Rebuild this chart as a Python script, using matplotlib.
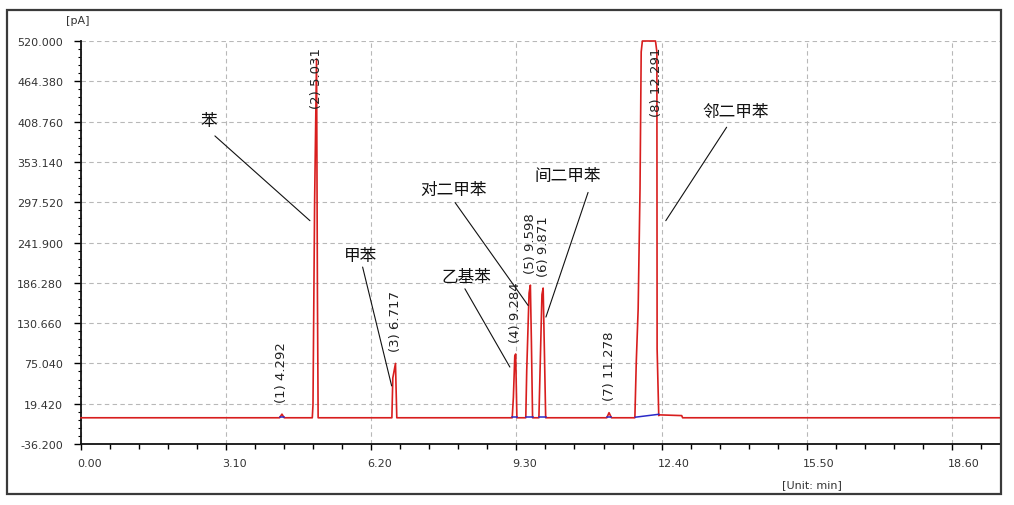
import numpy as np
import matplotlib
matplotlib.use('Agg')
from matplotlib import pyplot as plt
from matplotlib.patches import Rectangle
from matplotlib.ticker import AutoMinorLocator, FormatStrFormatter
from matplotlib.transforms import ScaledTranslation

# chromatogram trace, vertices (min, pA)
trace_t = [0.0, 4.24, 4.292, 4.34,
           4.94, 4.955, 4.99, 5.031, 5.05, 5.065,
           6.64, 6.66, 6.717, 6.745,
           9.21, 9.235, 9.265, 9.284, 9.31,
           9.50, 9.52, 9.57, 9.598, 9.62, 9.645,
           9.78, 9.80, 9.845, 9.871, 9.895, 9.925,
           11.23, 11.278, 11.33,
           11.83, 11.86, 11.90, 11.94, 11.965, 11.99, 12.27, 12.30, 12.305, 12.34,
           12.36, 12.83, 12.85, 19.65]
trace_v = [0, 0, 5, 0,
           0, 18, 300, 495, 170, 0,
           0, 55, 75, 0,
           0, 28, 85, 88, 0,
           0, 65, 172, 183, 105, 0,
           0, 52, 170, 179, 100, 0,
           0, 7, 0,
           0, 77, 150, 316, 505, 520, 520, 505, 95, 3,
           4, 3, 0, 0]

# integration baselines (blue)
base_t0 = [4.24, 9.21, 9.50, 9.78, 11.23, 11.84]
base_t1 = [4.34, 9.31, 9.645, 9.925, 11.33, 12.34]
base_v0 = [0, 0, 0, 0, 0, 0]
base_v1 = [0, 0, 0, 0, 0, 4]

# peak table
peak_no = [1, 2, 3, 4, 5, 6, 7, 8]
peak_rt = [4.292, 5.031, 6.717, 9.284, 9.598, 9.871, 11.278, 12.291]
peak_h = [5, 495, 75, 88, 183, 179, 7, 520]

compounds = ['苯', '甲苯', '乙基苯', '对二甲苯', '间二甲苯', '邻二甲苯']

x_ticks = [0.00, 3.10, 6.20, 9.30, 12.40, 15.50, 18.60]
y_ticks = [-36.2, 19.42, 75.04, 130.66, 186.28, 241.90, 297.52, 353.14, 408.76, 464.38, 520.0]

W, H = 1014, 506
fig = plt.figure(figsize=(W / 100, H / 100), dpi=100)
fig.patches.append(Rectangle((7 / W, 1 - 495 / H), 994 / W, 484 / H, transform=fig.transFigure,
                             fill=False, ec='#3a3a3a', lw=1.6))
ax = fig.add_axes([81 / W, 1 - 445 / H, 920 / W, 403 / H])

red = '#d81e1e'
blue = '#2a2ac8'
ax.plot(trace_t, trace_v, color=red, lw=1.2, clip_on=False, zorder=3)
for t0, t1, v0, v1 in zip(base_t0, base_t1, base_v0, base_v1):
    ax.plot([t0, t1], [v0 + 0.8, v1 + 0.8], color=blue, lw=1.1, zorder=4)

ax.set_xlim(0, 19.65)
ax.set_ylim(-36.2, 520)
for s in ['top', 'right']:
    ax.spines[s].set_visible(False)
for s in ['left', 'bottom']:
    ax.spines[s].set_linewidth(1.3)
    ax.spines[s].set_color('#111111')

ax.set_xticks(x_ticks)
ax.set_yticks(y_ticks)
ax.xaxis.set_major_formatter(FormatStrFormatter('%.2f'))
ax.yaxis.set_major_formatter(FormatStrFormatter('%.3f'))
ax.xaxis.set_minor_locator(AutoMinorLocator(5))
ax.yaxis.set_minor_locator(AutoMinorLocator(5))
ax.tick_params(axis='x', which='major', length=4, width=1, pad=6, labelsize=8, labelcolor='#333333')
ax.tick_params(axis='x', which='minor', length=3.5, width=1)
ax.tick_params(axis='y', which='major', length=5, width=1, pad=8, labelsize=8, labelcolor='#333333')
ax.tick_params(axis='y', which='minor', length=2.5, width=0.8)
for lab in ax.get_xticklabels():
    lab.set_horizontalalignment('left')
    lab.set_transform(lab.get_transform() + ScaledTranslation(-0.04, 0, fig.dpi_scale_trans))

ax.grid(True, which='major', ls=(0, (4, 3)), color='#b8b8b8', lw=0.8)
ax.set_axisbelow(True)

fig.text(78 / W, 1 - 21 / H, '[pA]', ha='center', va='center', fontsize=8, color='#333333')
fig.text(812 / W, 1 - 485 / H, '[Unit: min]', ha='center', va='center', fontsize=8, color='#333333')

# peak labels
for n, rt, h in zip(peak_no, peak_rt, peak_h):
    if h > 400:
        ax.annotate('(%d) %.3f' % (n, rt), xy=(rt, 520), xytext=(0, -4), textcoords='offset points',
                    rotation=90, ha='center', va='top', fontsize=9.5, color='#222222', zorder=5)
    else:
        ax.annotate('(%d) %.3f' % (n, rt), xy=(rt, h), xytext=(0, 9), textcoords='offset points',
                    rotation=90, ha='center', va='bottom', fontsize=9.5, color='#222222', zorder=5)

# compound names with leader lines
cjk = ['Noto Sans CJK SC', 'DejaVu Sans']
name_pos = [(2.72, 410), (5.98, 224), (8.24, 195), (7.965, 315), (10.40, 335), (13.99, 423)]
leaders = [((2.86, 389), (4.89, 272)),
           ((6.015, 208), (6.635, 44)),
           ((8.20, 178), (9.16, 70)),
           ((7.99, 297), (9.55, 155)),
           ((10.83, 311), (9.93, 139)),
           ((13.79, 401), (12.49, 272))]
for name, (tx, ty), (p0, p1) in zip(compounds, name_pos, leaders):
    ax.text(tx, ty, name, ha='center', va='center', fontsize=12, family=cjk, color='#111111')
    ax.annotate('', xy=p1, xytext=p0,
                arrowprops=dict(arrowstyle='-', color='#111111', lw=0.8, shrinkA=0, shrinkB=0))

fig.savefig('out.png', dpi=100)
